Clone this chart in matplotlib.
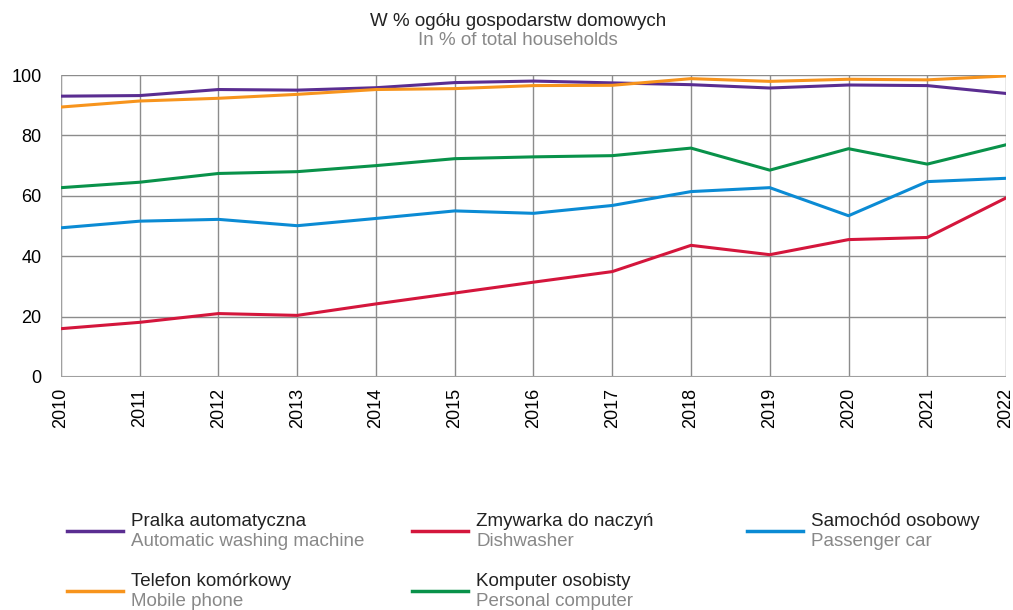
import matplotlib.pyplot as plt
from matplotlib.lines import Line2D

plt.rcParams['font.family'] = ['Liberation Sans', 'DejaVu Sans']

years = list(range(2010, 2023))

pralka = [93.0, 93.2, 95.2, 95.0, 95.8, 97.5, 98.0, 97.4, 96.8, 95.7, 96.7, 96.5, 93.9]
zmywarka = [16.0, 18.1, 21.0, 20.4, 24.2, 27.8, 31.4, 34.9, 43.6, 40.5, 45.5, 46.2, 59.3]
samochod = [49.4, 51.6, 52.2, 50.1, 52.5, 55.0, 54.2, 56.8, 61.4, 62.7, 53.4, 64.7, 65.8]
telefon = [89.4, 91.4, 92.3, 93.6, 95.2, 95.5, 96.5, 96.6, 98.8, 97.9, 98.6, 98.4, 99.7]
komputer = [62.7, 64.5, 67.4, 68.0, 70.0, 72.3, 72.9, 73.3, 75.8, 68.5, 75.6, 70.5, 76.9]

labels_pl = ["Pralka automatyczna", "Zmywarka do naczyń", "Samochód osobowy",
             "Telefon komórkowy", "Komputer osobisty"]
labels_en = ["Automatic washing machine", "Dishwasher", "Passenger car",
             "Mobile phone", "Personal computer"]
colors = ["#5a2d91", "#d4163c", "#0b8bd4", "#f7941d", "#09924a"]
series = [pralka, zmywarka, samochod, telefon, komputer]

fig = plt.figure(figsize=(10.13, 6.10), dpi=100)
ax = fig.add_axes([0.0602, 0.382, 0.9329, 0.495])

for vals, c in zip(series, colors):
    ax.plot(years, vals, color=c, lw=2.2, zorder=3)

ax.set_xlim(2010, 2022)
ax.set_ylim(0, 100)
ax.set_xticks(years)
ax.set_xticklabels([str(y) for y in years], rotation=90, fontsize=13)
ax.set_yticks(range(0, 101, 20))
ax.tick_params(axis='y', labelsize=13, length=0, pad=14)
ax.tick_params(axis='x', length=0, pad=8)
ax.grid(True, color="#8c8c8c", lw=1)
for s in ax.spines.values():
    s.set_visible(False)
ax.axhline(0, color="#a0a0a0", lw=1.5, zorder=2)
ax.axvline(2010, color="#a0a0a0", lw=1.5, zorder=2)

fig.text(0.511, 0.958, "W % ogółu gospodarstw domowych", ha='center', fontsize=13.5, color='#222222')
fig.text(0.511, 0.927, "In % of total households", ha='center', fontsize=13.5, color='#888888')

# legend built by hand: two-line labels (Polish / English)
cols_x = [67, 412, 747]
rows_y = [531, 591]
for i, (pl, en, c) in enumerate(zip(labels_pl, labels_en, colors)):
    x0 = cols_x[i % 3]
    y0 = rows_y[i // 3]
    fy = 1 - y0 / 610
    fig.add_artist(Line2D([x0 / 1013, (x0 + 56) / 1013], [fy, fy], color=c, lw=2.5))
    fig.text((x0 + 64) / 1013, 1 - (y0 - 9) / 610, pl, fontsize=13.5, color='#222222', va='center')
    fig.text((x0 + 64) / 1013, 1 - (y0 + 10) / 610, en, fontsize=13.5, color='#888888', va='center')

fig.savefig("out.png", dpi=100)
